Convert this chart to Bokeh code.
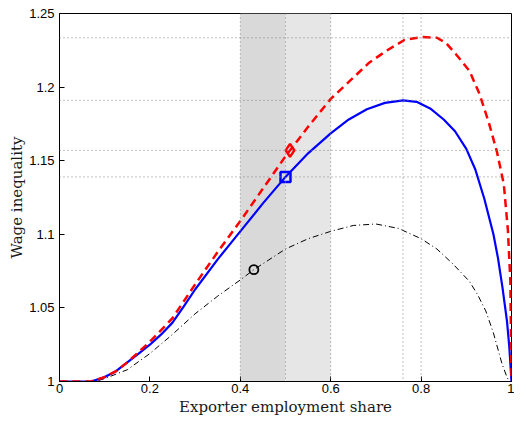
from bokeh.plotting import figure
from bokeh.models import Range1d, FixedTicker, Span, BoxAnnotation, Title
from bokeh.embed import file_html
from bokeh.resources import INLINE

# ---- data ----
x_blue = [0, 0.07, 0.1, 0.125, 0.15, 0.175, 0.2, 0.225, 0.25, 0.275, 0.3, 0.35, 0.4, 0.45, 0.5, 0.55,
          0.6, 0.64, 0.68, 0.72, 0.76, 0.79, 0.82, 0.85, 0.875, 0.9, 0.92, 0.94, 0.96, 0.97, 0.98,
          0.99, 0.995, 1.0]
y_blue = [1.0, 1.0, 1.003, 1.007, 1.013, 1.019, 1.025, 1.032, 1.040, 1.051, 1.0625, 1.083, 1.102, 1.121,
          1.139, 1.155, 1.1686, 1.178, 1.185, 1.1893, 1.191, 1.190, 1.1855, 1.178, 1.170, 1.158, 1.144,
          1.124, 1.100, 1.084, 1.064, 1.041, 1.024, 1.0]

x_red = [0, 0.07, 0.1, 0.125, 0.15, 0.175, 0.2, 0.25, 0.3, 0.35, 0.4, 0.45, 0.5, 0.55, 0.6, 0.64,
         0.685, 0.727, 0.763, 0.8, 0.835, 0.855, 0.878, 0.907, 0.929, 0.95, 0.968, 0.983, 0.992,
         0.9975, 1.0]
y_red = [1.0, 1.0, 1.003, 1.007, 1.013, 1.020, 1.027, 1.043, 1.066, 1.088, 1.109, 1.131, 1.153, 1.173,
         1.192, 1.2035, 1.2166, 1.2254, 1.232, 1.234, 1.2335, 1.230, 1.222, 1.211, 1.1955, 1.1757,
         1.1558, 1.134, 1.103, 1.068, 1.0]

x_black = [0, 0.08, 0.1, 0.15, 0.2, 0.25, 0.3, 0.35, 0.4, 0.43, 0.5, 0.55, 0.6, 0.65, 0.7, 0.75,
           0.8, 0.835, 0.87, 0.907, 0.925, 0.943, 0.96, 0.979, 0.99, 0.995, 1.0]
y_black = [1.0, 1.0, 1.002, 1.008, 1.019, 1.032, 1.046, 1.058, 1.069, 1.076, 1.090, 1.097, 1.102,
           1.106, 1.107, 1.104, 1.097, 1.090, 1.080, 1.068, 1.059, 1.048, 1.033, 1.012, 1.003, 1.0, 1.0]

mark_red = (0.51, 1.157)
mark_blue = (0.5, 1.139)
mark_black = (0.43, 1.076)

hlines = [1.2335, 1.191, 1.157, 1.139]
vlines = [0.4, 0.5, 0.6, 0.76, 0.8]
shade_left = [0.4, 0.5]
shade_right = [0.5, 0.6]
shade_colors = ["#d9d9d9", "#e6e6e6"]

x_ticks = [0, 0.2, 0.4, 0.6, 0.8, 1.0]
x_tick_labels = ["0", "0.2", "0.4", "0.6", "0.8", "1"]
y_ticks = [1.0, 1.05, 1.1, 1.15, 1.2, 1.25]
y_tick_labels = ["1", "1.05", "1.1", "1.15", "1.2", "1.25"]

x_label = "Exporter employment share"
y_label = "Wage inequality"

# ---- figure ----
p = figure(width=514, height=418, output_backend="svg", toolbar_location=None,
           x_range=Range1d(0, 1), y_range=Range1d(1.0, 1.25),
           min_border_left=59, min_border_right=3, min_border_top=13, min_border_bottom=37)
p.background_fill_color = "white"
p.border_fill_color = "white"
p.outline_line_color = "black"
p.outline_line_width = 1
p.xgrid.visible = False
p.ygrid.visible = False

for l, r, c in zip(shade_left, shade_right, shade_colors):
    p.add_layout(BoxAnnotation(left=l, right=r, fill_color=c, fill_alpha=1.0,
                               line_color=None, level="underlay"))

for v in vlines:
    p.add_layout(Span(location=v, dimension="height", line_color="#808080",
                      line_dash="1 3", line_width=1))
for h in hlines:
    p.add_layout(Span(location=h, dimension="width", line_color="#808080",
                      line_dash="1 3", line_width=1))

p.line(x_black, y_black, line_color="black", line_width=1, line_dash="6 3 1 3")
p.line(x_blue, y_blue, line_color="#0000ff", line_width=2.2)
p.line(x_red, y_red, line_color="#ff0000", line_width=2.5, line_dash="8 5")

p.scatter([mark_red[0]], [mark_red[1]], marker="diamond", size=13, fill_color=None,
          line_color="#ff0000", line_width=2.5)
p.scatter([mark_blue[0]], [mark_blue[1]], marker="square", size=10, fill_color=None,
          line_color="#0000ff", line_width=2.5)
p.scatter([mark_black[0]], [mark_black[1]], marker="circle", size=9, fill_color=None,
          line_color="black", line_width=1.8)

# axes styling
p.xaxis.ticker = FixedTicker(ticks=x_ticks)
p.yaxis.ticker = FixedTicker(ticks=y_ticks)
p.xaxis.major_label_overrides = dict(zip(x_ticks, x_tick_labels))
p.yaxis.major_label_overrides = dict(zip(y_ticks, y_tick_labels))
for ax in (p.xaxis[0], p.yaxis[0]):
    ax.major_tick_in = 5
    ax.major_tick_out = 0
    ax.minor_tick_line_color = None
    ax.axis_line_color = "black"
    ax.major_tick_line_color = "black"
    ax.major_label_text_font = "Liberation Sans"
    ax.major_label_text_font_size = "13px"
    ax.major_label_text_color = "black"
p.xaxis.major_label_standoff = 2
p.yaxis.major_label_standoff = 5

# axis titles (slightly off-centre as in the reference)
xt = Title(text=x_label, align="center", offset=16, text_font="DejaVu Serif",
           text_font_size="15px", text_font_style="normal", text_color="#1a1a1a", standoff=0)
yt = Title(text=y_label, align="center", offset=16, text_font="DejaVu Serif",
           text_font_size="15px", text_font_style="normal", text_color="#1a1a1a", standoff=2)
p.add_layout(xt, "below")
p.add_layout(yt, "left")

open("out.html", "w").write(file_html(p, INLINE))
